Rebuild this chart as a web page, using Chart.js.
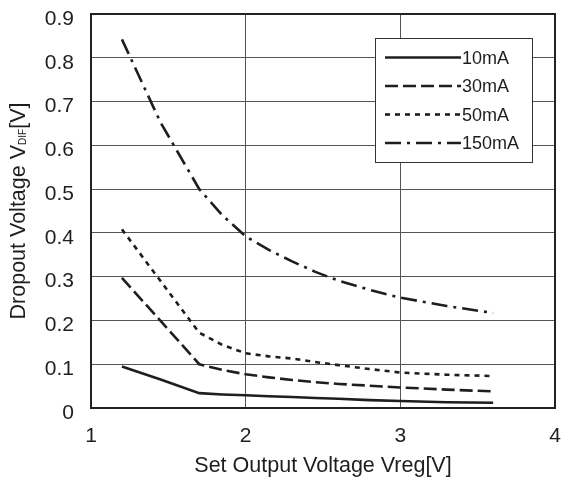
<!DOCTYPE html>
<html>
<head>
<meta charset="utf-8">
<script src="https://cdn.jsdelivr.net/npm/chart.js@4.4.0/dist/chart.umd.min.js"></script>
<style>
  html, body { margin: 0; padding: 0; background: #fff; }
</style>
</head>
<body>
<canvas id="grafico-caida" width="562" height="483"></canvas>
<script>
// Datos (Vreg en V, caída en V)
const vreg = [1.2, 1.45, 1.7, 1.85, 2.0, 2.15, 2.3, 2.45, 2.6, 2.8, 3.0, 3.3, 3.6];
const caida10mA = [0.095, 0.065, 0.034, 0.031, 0.029, 0.027, 0.025, 0.023, 0.021, 0.018, 0.016, 0.013, 0.012];
const caida30mA = [0.297, 0.199, 0.100, 0.087, 0.077, 0.070, 0.064, 0.059, 0.055, 0.051, 0.047, 0.042, 0.038];
const caida50mA = [0.408, 0.290, 0.172, 0.144, 0.125, 0.118, 0.113, 0.105, 0.098, 0.089, 0.081, 0.076, 0.073];
const caida150mA = [0.842, 0.652, 0.500, 0.440, 0.392, 0.361, 0.335, 0.311, 0.291, 0.270, 0.252, 0.233, 0.217];
const etiquetas = ['10mA', '30mA', '50mA', '150mA'];
const ticksX = [1, 2, 3, 4];
const ticksY = [0, 0.1, 0.2, 0.3, 0.4, 0.5, 0.6, 0.7, 0.8, 0.9];

const FUENTE = '"Liberation Sans", Arial, sans-serif';
const NEGRO = '#1e1e1e';

const series = [caida10mA, caida30mA, caida50mA, caida150mA];
const trazos = [[], [13, 5], [5, 5], [16, 6, 3, 6]];

const datasets = series.map((valores, i) => ({
    label: etiquetas[i],
    data: vreg.map((x, j) => ({ x: x, y: valores[j] })),
    borderColor: NEGRO,
    borderWidth: 2.6,
    borderDash: trazos[i],
    pointRadius: 0,
    tension: 0,
    fill: false
}));

// Marco, leyenda dentro del gráfico y título del eje Y con subíndice
const extras = {
    id: 'extras',
    afterDraw(chart) {
        const ctx = chart.ctx;
        const a = chart.chartArea;
        ctx.save();

        // marco del área
        ctx.strokeStyle = '#222';
        ctx.lineWidth = 2;
        ctx.strokeRect(a.left, a.top, a.right - a.left, a.bottom - a.top);

        // leyenda
        const caja = { x: 375.5, y: 38.5, w: 157, h: 124 };
        ctx.fillStyle = '#fff';
        ctx.fillRect(caja.x, caja.y, caja.w, caja.h);
        ctx.strokeStyle = '#333';
        ctx.lineWidth = 1;
        ctx.strokeRect(caja.x, caja.y, caja.w, caja.h);
        ctx.font = '18px ' + FUENTE;
        ctx.textBaseline = 'middle';
        ctx.textAlign = 'left';
        chart.data.datasets.forEach((ds, i) => {
            const y = 57.5 + i * 28.5;
            ctx.beginPath();
            ctx.setLineDash(ds.borderDash);
            ctx.strokeStyle = NEGRO;
            ctx.lineWidth = 2.6;
            ctx.moveTo(385, y);
            ctx.lineTo(461, y);
            ctx.stroke();
            ctx.setLineDash([]);
            ctx.fillStyle = NEGRO;
            ctx.fillText(ds.label, 462, y + 1.5);
        });

        // título eje Y: "Dropout Voltage V" + "DIF" + "[V]"
        const partes = [
            { t: 'Dropout Voltage V', f: '21.5px ' + FUENTE, dy: 0 },
            { t: 'DIF', f: '10px ' + FUENTE, dy: 1 },
            { t: '[V]', f: '21.5px ' + FUENTE, dy: 0 }
        ];
        let total = 0;
        partes.forEach(p => { ctx.font = p.f; p.w = ctx.measureText(p.t).width; total += p.w; });
        ctx.translate(25, (a.top + a.bottom) / 2);
        ctx.rotate(-Math.PI / 2);
        ctx.textBaseline = 'alphabetic';
        ctx.fillStyle = NEGRO;
        let x = -total / 2;
        partes.forEach(p => {
            ctx.font = p.f;
            ctx.fillText(p.t, x, p.dy);
            x += p.w;
        });
        ctx.restore();
    }
};

const ctx = document.getElementById('grafico-caida').getContext('2d');
new Chart(ctx, {
    type: 'line',
    data: { datasets: datasets },
    options: {
        responsive: false,
        animation: false,
        layout: { padding: { top: 14, right: 7, left: 0, bottom: 0 } },
        plugins: {
            legend: { display: false },
            tooltip: { enabled: false }
        },
        scales: {
            x: {
                type: 'linear',
                min: 1,
                max: 4,
                afterBuildTicks: s => { s.ticks = ticksX.map(v => ({ value: v })); },
                afterFit: s => { s.height = 75; s.paddingLeft = 0; s.paddingRight = 0; },
                ticks: {
                    color: NEGRO,
                    font: { family: FUENTE, size: 21 },
                    padding: 16,
                    callback: v => String(v)
                },
                grid: { color: '#555', lineWidth: 1, drawTicks: false },
                border: { display: false },
                title: {
                    display: true,
                    text: 'Set Output Voltage Vreg[V]',
                    color: NEGRO,
                    font: { family: FUENTE, size: 21.5 },
                    padding: { top: 0, bottom: 4 }
                }
            },
            y: {
                type: 'linear',
                min: 0,
                max: 0.9,
                afterBuildTicks: s => { s.ticks = ticksY.map(v => ({ value: v })); },
                afterFit: s => { s.width = 91; s.paddingTop = 0; s.paddingBottom = 0; },
                ticks: {
                    color: NEGRO,
                    font: { family: FUENTE, size: 21 },
                    padding: 17,
                    labelOffset: 5,
                    callback: v => String(+v.toFixed(1))
                },
                grid: { color: '#555', lineWidth: 1, drawTicks: false },
                border: { display: false }
            }
        }
    },
    plugins: [extras]
});
</script>
</body>
</html>
